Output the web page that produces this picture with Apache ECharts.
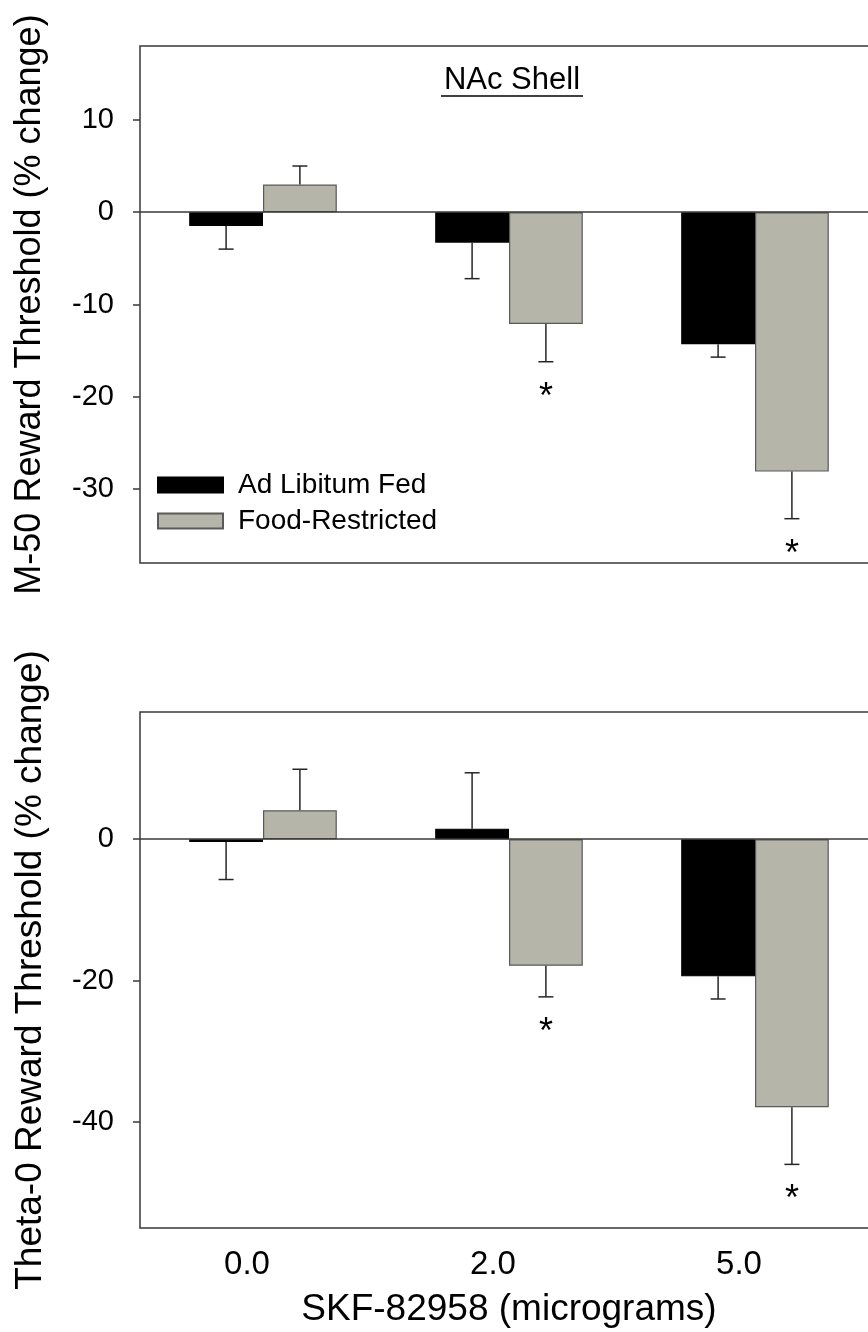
<!DOCTYPE html>
<html>
<head>
<meta charset="utf-8">
<script src="https://cdn.jsdelivr.net/npm/echarts@6/dist/echarts.min.js"></script>
<style>
  html, body { margin: 0; padding: 0; background: #fff; }
  #chart { width: 868px; height: 1332px; }
</style>
</head>
<body>
<div id="chart"></div>
<script>
// Doses of SKF-82958 (micrograms)
const doses = ['0.0', '2.0', '5.0'];
const groupNames = ['Ad Libitum Fed', 'Food-Restricted'];

// M-50 reward threshold, % change (mean and SEM)
const m50AdLib = [-1.5, -3.3, -14.3];
const m50AdLibErr = [2.5, 3.9, 1.4];
const m50FoodR = [3.0, -12.1, -28.1];
const m50FoodRErr = [2.0, 4.1, 5.1];
const m50Sig = [false, true, true];
const m50Ticks = [-30, -20, -10, 0, 10];

// Theta-0 reward threshold, % change (mean and SEM)
const th0AdLib = [-0.4, 1.5, -19.4];
const th0AdLibErr = [5.3, 7.9, 3.2];
const th0FoodR = [4.1, -17.9, -37.9];
const th0FoodRErr = [5.8, 4.4, 8.1];
const th0Sig = [false, true, true];
const th0Ticks = [-40, -20, 0];

const FONT = '"Liberation Sans", Arial, Helvetica, sans-serif';
const FRAME = '#383838';
const GREY = '#b5b5a9';

// fraction of the category band taken by one bar
const BAR_FRAC = 0.30;

function yAxisFor(grid, min, max, ticks, name, nameSize, nameGap) {
  return {
    type: 'value', gridIndex: grid, min: min, max: max,
    name: name, nameLocation: 'middle', nameGap: nameGap, nameRotate: 90,
    nameTextStyle: { fontSize: nameSize, fontFamily: FONT, color: '#000' },
    splitLine: { show: false },
    axisLine: { show: false },
    axisTick: { show: true, inside: false, length: 7, customValues: ticks,
                lineStyle: { color: FRAME, width: 1.5 } },
    axisLabel: { customValues: ticks, fontSize: 29, fontFamily: FONT, color: '#000', margin: 26 }
  };
}

function barSeries(grid, name, values, color, border) {
  return {
    type: 'bar', name: name, xAxisIndex: grid, yAxisIndex: grid,
    data: values, barWidth: (BAR_FRAC * 100) + '%', barGap: '0%',
    itemStyle: { color: color, borderColor: border, borderWidth: 1.2 },
    silent: true
  };
}

// vertical error bar pointing away from zero, with a cap
function errorSeries(grid, means, errs, side) {
  return {
    type: 'custom', xAxisIndex: grid, yAxisIndex: grid, silent: true, z: 5,
    data: means.map((m, i) => [i, m, errs[i]]),
    encode: { x: 0, y: 1 },
    renderItem: function (params, api) {
      const i = api.value(0), m = api.value(1), e = api.value(2);
      const end = m < 0 ? m - e : m + e;
      const base = api.coord([i, m]);
      const tip = api.coord([i, end]);
      const band = api.size([1, 0])[0];
      const x = base[0] + side * band * BAR_FRAC / 2;
      const cap = 7.5;
      const st = { stroke: '#262626', lineWidth: 1.5 };
      return { type: 'group', children: [
        { type: 'line', shape: { x1: x, y1: base[1], x2: x, y2: tip[1] }, style: st },
        { type: 'line', shape: { x1: x - cap, y1: tip[1], x2: x + cap, y2: tip[1] }, style: st }
      ] };
    }
  };
}

// significance asterisks under the food-restricted error bars
function starSeries(grid, means, errs, sig) {
  return {
    type: 'custom', xAxisIndex: grid, yAxisIndex: grid, silent: true, z: 6,
    data: means.map((m, i) => [i, m, errs[i], sig[i] ? 1 : 0]),
    encode: { x: 0, y: 1 },
    renderItem: function (params, api) {
      if (!api.value(3)) return null;
      const i = api.value(0), m = api.value(1), e = api.value(2);
      const tip = api.coord([i, m - e]);
      const band = api.size([1, 0])[0];
      const x = tip[0] + band * BAR_FRAC / 2;
      return { type: 'text', style: {
        text: '*', x: x, y: tip[1] + 36, align: 'center', verticalAlign: 'middle',
        fontSize: 36, fontFamily: FONT, fill: '#000'
      } };
    }
  };
}

const zeroLine = {
  silent: true, symbol: 'none', label: { show: false },
  lineStyle: { color: FRAME, width: 1.5, type: 'solid' },
  data: [{ yAxis: 0 }]
};

const chart = echarts.init(document.getElementById('chart'), null, { renderer: 'canvas' });

const m50Black = barSeries(0, groupNames[0], m50AdLib, '#000', '#000');
m50Black.markLine = zeroLine;
const th0Black = barSeries(1, groupNames[0], th0AdLib, '#000', '#000');
th0Black.markLine = zeroLine;

chart.setOption({
  animation: false,
  backgroundColor: '#fff',
  textStyle: { fontFamily: FONT },
  grid: [
    { left: 140, top: 46, width: 738, height: 517, show: true, outerBoundsMode: 'none',
      borderColor: FRAME, borderWidth: 1.5, backgroundColor: 'transparent' },
    { left: 140, top: 712, width: 738, height: 516, show: true, outerBoundsMode: 'none',
      borderColor: FRAME, borderWidth: 1.5, backgroundColor: 'transparent' }
  ],
  legend: {
    data: groupNames, orient: 'vertical', left: 152, top: 466,
    icon: 'rect', itemWidth: 65, itemHeight: 15, itemGap: 8,
    textStyle: { fontSize: 28, fontFamily: FONT, color: '#000', padding: [0, 0, 0, 10] },
    selectedMode: false
  },
  graphic: [
    { type: 'group', z: 10, children: [
      { type: 'text', x: 512, y: 80,
        style: { text: 'NAc Shell', fontSize: 31, fontFamily: FONT, fill: '#000',
                 align: 'center', verticalAlign: 'middle' } },
      { type: 'line', shape: { x1: 441, y1: 96, x2: 583, y2: 96 },
        style: { stroke: '#000', lineWidth: 1.6 } }
    ] }
  ],
  xAxis: [
    { type: 'category', gridIndex: 0, data: doses,
      axisLine: { show: false }, axisTick: { show: false }, axisLabel: { show: false } },
    { type: 'category', gridIndex: 1, data: doses,
      axisLine: { show: false }, axisTick: { show: false },
      axisLabel: { fontSize: 33, fontFamily: FONT, color: '#000', margin: 20, padding: [0, 32, 0, 0] },
      name: 'SKF-82958 (micrograms)', nameLocation: 'middle', nameGap: 63,
      nameTextStyle: { fontSize: 37, fontFamily: FONT, color: '#000' } }
  ],
  yAxis: [
    yAxisFor(0, -38, 18, m50Ticks, 'M-50 Reward Threshold (% change)', 36, 92),
    yAxisFor(1, -55, 18, th0Ticks, 'Theta-0 Reward Threshold (% change)', 37, 91)
  ],
  series: [
    m50Black,
    barSeries(0, groupNames[1], m50FoodR, GREY, '#5a5a5a'),
    errorSeries(0, m50AdLib, m50AdLibErr, -1),
    errorSeries(0, m50FoodR, m50FoodRErr, 1),
    starSeries(0, m50FoodR, m50FoodRErr, m50Sig),
    th0Black,
    barSeries(1, groupNames[1], th0FoodR, GREY, '#5a5a5a'),
    errorSeries(1, th0AdLib, th0AdLibErr, -1),
    errorSeries(1, th0FoodR, th0FoodRErr, 1),
    starSeries(1, th0FoodR, th0FoodRErr, th0Sig)
  ]
});
</script>
</body>
</html>
